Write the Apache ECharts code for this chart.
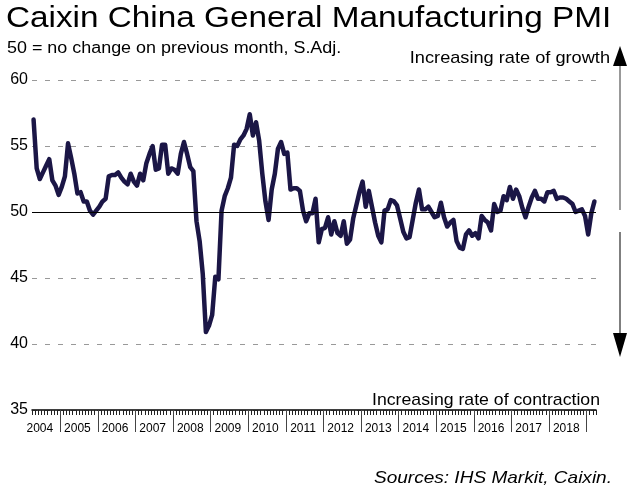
<!DOCTYPE html>
<html>
<head>
<meta charset="utf-8">
<script src="https://cdn.jsdelivr.net/npm/echarts@6/dist/echarts.min.js"></script>
<style>
  html, body { margin: 0; padding: 0; background: #fff; }
  #chart { width: 635px; height: 490px; }
</style>
</head>
<body>
<div id="chart"></div>
<script>
// first month shown: April 2004
const startYear = 2004;
const startMonth = 4;

// Caixin China General Manufacturing PMI, monthly, S.Adj.
const pmi = [
  57.0, 53.3, 52.5, 53.0, 53.5, 54.0, 52.4, 52.0, 51.3,             // 2004 Apr-Dec
  51.9, 52.7, 55.2, 54.1, 52.9, 51.4, 51.5, 50.8, 50.8, 50.1, 49.8, 50.1, // 2005
  50.4, 50.8, 51.0, 52.7, 52.8, 52.8, 53.0, 52.6, 52.3, 52.1, 52.9, 52.3, // 2006
  52.0, 52.9, 52.4, 53.7, 54.4, 55.0, 53.2, 53.3, 55.1, 55.1, 52.9, 53.3, // 2007
  53.2, 52.9, 54.4, 55.3, 54.4, 53.4, 53.1, 49.3, 47.8, 45.3, 40.9, 41.4, // 2008
  42.2, 45.1, 44.9, 50.1, 51.2, 51.8, 52.6, 55.1, 55.0, 55.5, 55.8, 56.3, // 2009
  57.4, 55.8, 56.8, 55.4, 52.9, 50.8, 49.4, 51.7, 52.9, 54.8, 55.3, 54.4, // 2010
  54.5, 51.7, 51.8, 51.8, 51.6, 50.1, 49.3, 49.9, 49.9, 51.0, 47.7, 48.7, // 2011
  48.8, 49.6, 48.3, 49.3, 48.4, 48.2, 49.3, 47.6, 47.9, 49.5, 50.5, 51.5, // 2012
  52.3, 50.4, 51.6, 50.4, 49.2, 48.2, 47.7, 50.1, 50.2, 50.9, 50.8, 50.5, // 2013
  49.5, 48.5, 48.0, 48.1, 49.4, 50.7, 51.7, 50.2, 50.2, 50.4, 50.0, 49.6, // 2014
  49.7, 50.7, 49.6, 48.9, 49.2, 49.4, 47.8, 47.3, 47.2, 48.3, 48.6, 48.2, // 2015
  48.4, 48.0, 49.7, 49.4, 49.2, 48.6, 50.6, 50.0, 50.1, 51.2, 50.9, 51.9, // 2016
  51.0, 51.7, 51.2, 50.3, 49.6, 50.4, 51.1, 51.6, 51.0, 51.0, 50.8, 51.5, // 2017
  51.5, 51.6, 51.0, 51.1, 51.1, 51.0, 50.8, 50.6, 50.0, 50.1, 50.2, 49.7, // 2018
  48.3, 49.9, 50.8                                                   // 2019 Jan-Mar
];

const yTicks = [35, 40, 45, 50, 55, 60];

// month categories "YYYY-MM"
const months = pmi.map((v, i) => {
  const m = startMonth - 1 + i;
  const y = startYear + Math.floor(m / 12);
  const mm = (m % 12) + 1;
  return y + '-' + (mm < 10 ? '0' + mm : mm);
});

// year boundaries (start of January) and year label positions (middle of June),
// in month units along the axis
const yearTickPos = [];
const yearLabelPos = [];
months.forEach((m, i) => {
  if (m.slice(5) === '01') yearTickPos.push(i);
  if (m.slice(5) === '06') yearLabelPos.push(i + 0.5);
});

const chart = echarts.init(document.getElementById('chart'));

const font = 'Liberation Sans, Arial, sans-serif';

const option = {
  animation: false,
  backgroundColor: '#fff',
  grid: { left: 32, right: 39, top: 80, bottom: 80 },
  xAxis: [
    {
      // monthly ticks
      type: 'category',
      data: months,
      boundaryGap: true,
      axisLine: { show: true, lineStyle: { color: '#000', width: 1.5 } },
      axisTick: { show: true, interval: 0, length: 5, lineStyle: { color: '#222', width: 1 } },
      axisLabel: { show: false },
      splitLine: { show: false }
    },
    {
      // year ticks and labels
      type: 'value',
      position: 'bottom',
      min: 0,
      max: months.length,
      axisLine: { show: false },
      axisTick: {
        show: true,
        customValues: yearTickPos,
        length: 22,
        lineStyle: { color: '#444', width: 1 }
      },
      axisLabel: {
        show: true,
        customValues: yearLabelPos,
        formatter: v => months[Math.floor(v)].slice(0, 4),
        fontFamily: font,
        fontSize: 12,
        color: '#000',
        margin: 13
      },
      splitLine: { show: false }
    }
  ],
  yAxis: {
    type: 'value',
    min: yTicks[0],
    max: yTicks[yTicks.length - 1],
    interval: 5,
    axisLine: { show: false },
    axisTick: { show: false },
    axisLabel: { fontFamily: font, fontSize: 16, color: '#000', margin: 4 },
    splitLine: { show: true, lineStyle: { color: '#999', type: [5, 8], width: 1 } }
  },
  series: [
    {
      // 50 = no change line
      type: 'line',
      data: [],
      z: 1,
      markLine: {
        silent: true,
        symbol: ['none', 'none'],
        label: { show: false },
        lineStyle: { color: '#000', width: 1, type: 'solid' },
        data: [{ yAxis: 50 }]
      }
    },
    {
      name: 'PMI',
      type: 'line',
      data: pmi,
      z: 3,
      symbol: 'none',
      lineStyle: { color: '#1b1646', width: 4.5, join: 'round', cap: 'round' }
    }
  ],
  graphic: [
    {
      type: 'text', x: 6, y: 19, scaleX: 1.11,
      style: { text: 'Caixin China General Manufacturing PMI', font: '30px ' + font, fill: '#000', textVerticalAlign: 'middle' }
    },
    {
      type: 'text', x: 7, y: 49, scaleX: 1.12,
      style: { text: '50 = no change on previous month, S.Adj.', font: '16px ' + font, fill: '#000', textVerticalAlign: 'middle' }
    },
    {
      type: 'text', x: 610, y: 58, scaleX: 1.07,
      style: { text: 'Increasing rate of growth', font: '17px ' + font, fill: '#000', textAlign: 'right', textVerticalAlign: 'middle' }
    },
    {
      type: 'text', x: 600, y: 400, scaleX: 1.04,
      style: { text: 'Increasing rate of contraction', font: '17px ' + font, fill: '#000', textAlign: 'right', textVerticalAlign: 'middle' }
    },
    {
      type: 'text', x: 612, y: 478, scaleX: 1.12,
      style: { text: 'Sources: IHS Markit, Caixin.', font: 'italic 17px ' + font, fill: '#000', textAlign: 'right', textVerticalAlign: 'middle' }
    },
    // growth / contraction arrows
    { type: 'line', shape: { x1: 620, y1: 64, x2: 620, y2: 210 }, style: { stroke: '#999', lineWidth: 2 } },
    { type: 'polygon', shape: { points: [[620, 46], [613, 66], [627, 66]] }, style: { fill: '#000' } },
    { type: 'line', shape: { x1: 620, y1: 232, x2: 620, y2: 334 }, style: { stroke: '#555', lineWidth: 1.5 } },
    { type: 'polygon', shape: { points: [[620, 357], [613, 333], [627, 333]] }, style: { fill: '#000' } }
  ]
};

chart.setOption(option);
</script>
</body>
</html>
